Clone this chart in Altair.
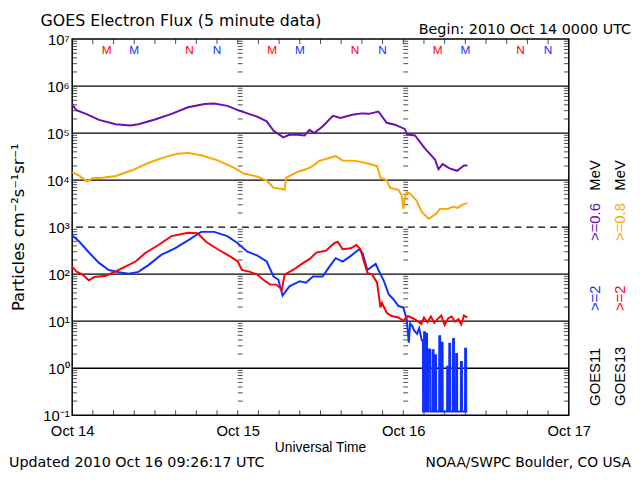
import json
import altair as alt
import pandas as pd

# ---------------- data (hours since 2010 Oct 14 00:00 UTC) ----------------
p_hours = [0, 0.6, 2.0, 3.9, 6.3, 8.4, 9.6, 12.0, 14.4, 16.8, 19.2, 20.6, 22.5, 24.2, 25.4, 26.8,
           28.2, 29.2, 30.6, 31.4, 32.3, 33.7, 34.4, 35.1, 36.3, 37.8, 38.9, 40.6, 42.0, 43.0, 44.4,
           45.6, 46.8, 48.2, 48.6, 49.7, 51.1, 52.6, 53.1, 53.7, 54.7, 55.8, 56.8, 57.3]
p_flux = [4.07e5, 3.09e5, 2.57e5, 1.91e5, 1.55e5, 1.45e5, 1.55e5, 1.95e5, 2.57e5, 3.55e5, 4.17e5,
          4.27e5, 3.80e5, 3.02e5, 2.63e5, 2.24e5, 1.78e5, 1.12e5, 8.1e4, 9.1e4, 9.3e4, 8.9e4, 1.17e5,
          1.0e5, 1.38e5, 2.34e5, 2.09e5, 2.45e5, 2.63e5, 2.57e5, 2.88e5, 1.66e5, 1.51e5, 1.23e5,
          9.3e4, 8.9e4, 4.8e4, 2.75e4, 1.70e4, 2.19e4, 1.78e4, 1.58e4, 2.04e4, 2.04e4]

o_hours = [0, 1.05, 2.2, 2.9, 4.4, 6.3, 8.7, 11.1, 13.4, 15.3, 16.8, 18.7, 21.1, 23.5, 24.9, 26.8,
           28.2, 29.2, 30.4, 30.8, 31.0, 32.7, 33.9, 34.9, 35.8, 37.0, 38.2, 39.2, 41.1, 43.0, 44.2,
           44.7, 45.6, 46.1, 47.3, 47.8, 48.0, 48.2, 48.5, 49.0, 49.9, 50.7, 51.7, 52.8, 53.3, 54.5,
           55.2, 55.9, 56.6, 57.3]
o_flux = [1.48e4, 1.23e4, 9.3e3, 1.10e4, 1.12e4, 1.23e4, 1.62e4, 2.34e4, 3.09e4, 3.63e4, 3.80e4,
          3.39e4, 2.63e4, 1.82e4, 1.38e4, 1.20e4, 9.8e3, 6.9e3, 6.5e3, 6.3e3, 1.12e4, 1.51e4, 1.70e4,
          2.0e4, 2.57e4, 2.88e4, 3.24e4, 2.63e4, 2.57e4, 2.24e4, 2.0e4, 1.12e4, 1.0e4, 6.8e3, 6.2e3,
          4.7e3, 2.45e3, 4.0e3, 5.5e3, 5.2e3, 3.7e3, 2.09e3, 1.51e3, 1.95e3, 2.45e3, 2.45e3, 2.75e3,
          2.57e3, 3.02e3, 3.24e3]

b_hours = [0, 1.05, 2.5, 3.9, 5.3, 6.8, 8.2, 9.6, 11.1, 12.9, 14.9, 16.8, 18.7, 20.6, 22.5, 24.0,
           25.4, 26.8, 28.2, 29.2, 29.9, 30.5, 31.5, 33.0, 33.9, 34.9, 36.3, 37.3, 38.2, 39.2, 40.4,
           41.6, 42.1, 42.8, 44.0, 44.4, 45.2, 45.9, 46.6, 47.3, 48.0, 48.5, 48.8, 49.0, 49.3, 49.6,
           50.0, 50.3,
           50.70, 50.85, 50.87, 51.00, 51.02, 51.15, 51.17, 51.30, 51.32, 51.45, 51.47, 51.60,
           51.62, 51.75, 51.90, 51.92, 52.25, 52.27, 52.40, 52.42, 52.60, 52.62, 52.75, 52.77,
           53.20, 53.22, 53.35, 53.37, 53.55, 53.57, 53.70, 53.72, 54.35, 54.37, 54.50, 54.52,
           54.65, 54.67, 54.80, 54.82, 55.20, 55.22, 55.35, 55.37, 55.65, 55.67, 55.80, 55.82,
           56.35, 56.37, 56.50, 56.52, 56.95, 56.97, 57.10, 57.12, 57.30]
b_flux = [676, 490, 282, 174, 123, 110, 102, 112, 158, 257, 355, 525, 794, 794, 646, 457, 302, 251,
          186, 89, 76, 35, 55, 71, 66, 89, 89, 145, 219, 186, 245, 339, 282, 123, 166, 123, 71, 37,
          29, 21, 19.5, 11, 3.5, 8.9, 7.9, 6.3, 5.4, 7.1,
          3.9, 3.9, 0.12, 0.12, 5.8, 5.8, 0.12, 0.12, 5.4, 5.4, 0.12, 0.12,
          2.6, 2.0, 2.6, 0.12, 0.12, 2.4, 2.4, 0.12, 0.12, 1.9, 1.9, 0.12,
          0.12, 4.8, 4.8, 0.12, 0.12, 3.5, 3.5, 0.12, 0.12, 1.07, 1.07, 0.12,
          0.12, 3.3, 3.3, 0.12, 0.12, 4.2, 4.2, 0.12, 0.12, 2.0, 2.0, 0.12,
          0.12, 1.35, 1.35, 0.12, 0.12, 2.6, 2.6, 0.12, 0.12]

r_hours = [0, 0.57, 1.5, 2.4, 3.2, 4.9, 6.3, 7.7, 9.2, 10.6, 12.5, 14.4, 16.8, 18.2, 19.4, 21.1,
           23.0, 24.0, 24.6, 25.8, 26.8, 27.7, 28.7, 29.6, 30.4, 30.8, 32.0, 33.5, 34.4, 35.4, 36.8,
           38.0, 38.5, 39.2, 40.4, 41.2, 41.8, 42.3, 42.8, 43.5, 44.2, 44.7, 44.9, 45.6, 46.3, 47.3,
           48.0, 48.7, 49.7, 50.6, 51.0, 51.5, 52.0, 52.5, 53.0, 53.5, 54.0, 54.5, 55.0, 55.5, 56.0,
           56.4, 56.8, 57.3]
r_flux = [145, 115, 98, 74, 87, 93, 115, 145, 186, 282, 417, 646, 759, 741, 490, 339, 234, 186,
          123, 112, 98, 76, 60, 60, 47, 98, 123, 174, 209, 288, 316, 457, 490, 339, 355, 417, 339,
          186, 107, 98, 66, 19.5, 24.5, 15.1, 12.9, 12.0, 10.2, 12.9, 11.0, 8.7, 12.0, 9.5, 12.6,
          9.3, 11.2, 13.2, 8.3, 11.5, 12.6, 9.8, 11.0, 8.5, 13.2, 12.0]

day_labels = ["Oct 14", "Oct 15", "Oct 16", "Oct 17"]
day_hours = [0, 24, 48, 72]
decade_exps = [-1, 0, 1, 2, 3, 4, 5, 6, 7]
solid_grid = [1, 10, 100, 1e4, 1e5, 1e6]
dashed_grid = [1e3]

# local midnight (M) / noon (N) markers: GOES13 red, GOES11 blue
mn_hours = [5, 9, 17, 21, 29, 33, 41, 45, 53, 57, 65, 69]
mn_text = ["M", "M", "N", "N"] * 3
mn_sat = ["GOES13", "GOES11"] * 6

PURPLE, ORANGE, BLUE, RED = "#6a0fb4", "#ffa500", "#1030ff", "#ff0000"
FONT = "Liberation Sans"
WIDE = "DejaVu Sans"
W, H = 503, 381

# ---------------- frames ----------------
sup = {"-": "⁻", "0": "⁰", "1": "¹", "2": "²", "3": "³", "4": "⁴",
       "5": "⁵", "6": "⁶", "7": "⁷", "8": "⁸", "9": "⁹"}
ylabels = ["10" + "".join(sup[c] for c in str(e)) for e in decade_exps]
ylab_expr = json.dumps(ylabels, ensure_ascii=False) + "[round(log(datum.value)/LN10)+1]"
xlab_expr = json.dumps(day_labels) + "[round(datum.value/24)]"

xs = alt.Scale(domain=[0, 72], nice=False, zero=False)
ys = alt.Scale(type="log", domain=[0.1, 1e7], nice=False)

def series(h, v):
    return pd.DataFrame({"h": h, "v": v})

xenc = alt.X("h:Q", scale=xs,
             axis=alt.Axis(values=day_hours, labelExpr=xlab_expr, ticks=False, domain=False,
                           grid=False, title=None, labelFontSize=15, labelPadding=9,
                           labelFont=FONT, labelColor="black", labelFlush=False))
yenc = alt.Y("v:Q", scale=ys,
             axis=alt.Axis(values=[10.0 ** e for e in decade_exps], labelExpr=ylab_expr,
                           ticks=False, domain=False, grid=False, title=None, labelFontSize=15,
                           labelPadding=3, labelFont=FONT, labelColor="black"))

layers = []

# grid lines
layers.append(alt.Chart(pd.DataFrame({"v": solid_grid})).mark_rule(color="black", strokeWidth=1.3)
              .encode(y=alt.Y("v:Q", scale=ys)))
layers.append(alt.Chart(pd.DataFrame({"v": dashed_grid})).mark_rule(color="black", strokeWidth=1.3,
              strokeDash=[7, 5]).encode(y=alt.Y("v:Q", scale=ys)))

# minor log ticks on left axis and day boundaries (pointing right), right axis (pointing left)
minor = [m * 10.0 ** k for k in range(-1, 7) for m in range(2, 10)]
tick_rows = [{"h": d, "v": val} for d in day_hours[:3] for val in minor]
layers.append(alt.Chart(pd.DataFrame(tick_rows)).mark_tick(orient="horizontal", size=5, thickness=1,
              xOffset=2.5, color="black").encode(x=alt.X("h:Q", scale=xs), y=alt.Y("v:Q", scale=ys)))
layers.append(alt.Chart(pd.DataFrame({"h": [72] * len(minor), "v": minor})).mark_tick(
    orient="horizontal", size=5, thickness=1, xOffset=-2.5, color="black").encode(
    x=alt.X("h:Q", scale=xs), y=alt.Y("v:Q", scale=ys)))

# 3-hour ticks on bottom and top
hr_ticks = pd.DataFrame({"h": list(range(3, 72, 3))})
layers.append(alt.Chart(hr_ticks).mark_tick(orient="vertical", size=5, thickness=1, yOffset=-2.5,
              color="black").encode(x=alt.X("h:Q", scale=xs), y=alt.value(H)))
layers.append(alt.Chart(hr_ticks).mark_tick(orient="vertical", size=5, thickness=1, yOffset=2.5,
              color="black").encode(x=alt.X("h:Q", scale=xs), y=alt.value(0)))

# data lines
for h, v, c in [(p_hours, p_flux, PURPLE), (o_hours, o_flux, ORANGE),
                (b_hours, b_flux, BLUE), (r_hours, r_flux, RED)]:
    layers.append(alt.Chart(series(h, v)).mark_line(color=c, strokeWidth=2)
                  .encode(x=xenc, y=yenc))

# M / N markers
mn = pd.DataFrame({"h": mn_hours, "t": mn_text, "sat": mn_sat})
layers.append(alt.Chart(mn).mark_text(font=FONT, fontSize=12, baseline="middle").encode(
    x=alt.X("h:Q", scale=xs), y=alt.value(11.5), text="t:N",
    color=alt.Color("sat:N", scale=alt.Scale(domain=["GOES13", "GOES11"], range=[RED, BLUE]),
                    legend=None)))

def label(txt, x, y, size=14, align="left", color="black", angle=0, baseline="middle", font=FONT):
    kw = dict(text=txt, font=font, fontSize=size, align=align, color=color, baseline=baseline)
    if angle:
        kw["angle"] = angle
    return alt.Chart(pd.DataFrame({"a": [0]})).mark_text(**kw).encode(x=alt.value(x), y=alt.value(y))

layers += [
    label("GOES Electron Flux (5 minute data)", -32, -18.5, size=16, font=WIDE),
    label("Begin: 2010 Oct 14 0000 UTC", 566, -9.5, size=14.5, align="right", font=WIDE),
    label("Universal Time", W / 2, 414.5, size=14, align="center"),
    label("Updated 2010 Oct 16 09:26:17 UTC", -64, 429.5, size=14.5, font=WIDE),
    label("NOAA/SWPC Boulder, CO USA", 566, 429.5, size=14, align="right", font=WIDE),
    label("Particles cm⁻²s⁻¹sr⁻¹", -54, H / 2, size=16.5, align="center", angle=270, font=WIDE),
    # right-hand legend (rotated)
    label("GOES11", 530, 371.5, size=15, angle=270),
    label(">=2", 530, 275.5, size=15, angle=270, color=BLUE),
    label(">=0.6", 530, 204.5, size=15, angle=270, color=PURPLE),
    label("MeV", 530, 153.5, size=15, angle=270),
    label("GOES13", 555, 371.5, size=15, angle=270),
    label(">=2", 555, 275.5, size=15, angle=270, color=RED),
    label(">=0.8", 555, 204.5, size=15, angle=270, color=ORANGE),
    label("MeV", 555, 153.5, size=15, angle=270),
]

chart = alt.layer(*layers).properties(
    width=W, height=H,
    autosize=alt.AutoSizeParams(type="none"),
    padding={"left": 65, "top": 28.5, "right": 64, "bottom": 55},
    background="white",
).configure_view(stroke="black", strokeWidth=1.5)

chart.save("out.html", embed_options={"renderer": "svg", "actions": False})
